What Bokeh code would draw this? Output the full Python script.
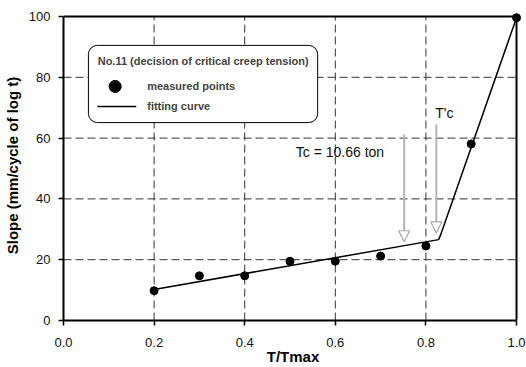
from bokeh.plotting import figure
from bokeh.models import (Range1d, FixedTicker, PrintfTickFormatter, Label, Arrow,
                          NormalHead, BoxAnnotation, ColumnDataSource)
from bokeh.embed import file_html
from bokeh.resources import INLINE

# ---- data ----
ratio = [0.2, 0.3, 0.4, 0.5, 0.6, 0.7, 0.8, 0.9, 1.0]
slope = [9.8, 14.7, 14.7, 19.5, 19.5, 21.2, 24.5, 58.1, 99.6]
fit_x = [0.2, 0.828, 0.832, 1.0]
fit_y = [10.2, 26.6, 28.0, 99.6]
x_ticks = [0.0, 0.2, 0.4, 0.6, 0.8, 1.0]
y_ticks = [0, 20, 40, 60, 80, 100]
arrow_x = [0.752, 0.823]
arrow_top = [61.2, 64.5]
arrow_tip = [25.9, 28.8]
tc_label = "Tc = 10.66 ton"
tpc_label = "T'c"
x_title = "T/Tmax"
y_title = "Slope (mm/cycle of log t)"
legend_title = "No.11 (decision of critical creep tension)"
legend_labels = ["measured points", "fitting curve"]

FONT = "Liberation Sans"
x0, x1 = x_ticks[0], x_ticks[-1]
y0, y1 = y_ticks[0], y_ticks[-1]
# small extra room past the frame so the corner marker is not clipped
xpad = (x1 - x0) * 6 / 454.5
ypad = (y1 - y0) * 6 / 304.0

p = figure(width=526, height=367, output_backend="svg", toolbar_location=None,
           x_range=Range1d(x0, x1 + xpad), y_range=Range1d(y0, y1 + ypad),
           min_border_left=62, min_border_right=4, min_border_top=10, min_border_bottom=47)
p.background_fill_color = "white"
p.border_fill_color = "white"
p.outline_line_color = None
p.xgrid.visible = False
p.ygrid.visible = False

for ax in (p.xaxis[0], p.yaxis[0]):
    ax.axis_line_width = 2
    ax.axis_line_color = "black"
    ax.major_tick_out = 5
    ax.major_tick_in = 0
    ax.minor_tick_out = 0
    ax.minor_tick_in = 0
    ax.major_tick_line_width = 1.5
    ax.major_tick_line_color = "black"
    ax.major_label_text_font = FONT
    ax.major_label_text_font_size = "13px"
    ax.major_label_text_color = "#111111"
    ax.axis_label_text_font = FONT
    ax.axis_label_text_font_size = "15px"
    ax.axis_label_text_font_style = "bold"
    ax.axis_label_text_color = "black"

p.xaxis.ticker = FixedTicker(ticks=x_ticks)
p.xaxis.formatter = PrintfTickFormatter(format="%.1f")
p.yaxis.ticker = FixedTicker(ticks=y_ticks)
p.xaxis.bounds = (x0, x1)
p.yaxis.bounds = (y0, y1)
p.xaxis.axis_label = x_title
p.yaxis.axis_label = y_title
p.xaxis.major_label_standoff = 12
p.yaxis.major_label_standoff = 8
p.xaxis.axis_label_standoff = -2
p.yaxis.axis_label_standoff = 5

# dashed grid drawn from the interior ticks
gx = x_ticks[1:-1]
gy = y_ticks[1:-1]
p.multi_line([[t, t] for t in gx] + [[x0, x1] for _ in gy],
             [[y0, y1] for _ in gx] + [[t, t] for t in gy],
             line_color="#333333", line_dash="8 4", line_width=1, level="underlay")
# top and right frame lines
p.line([x0, x1, x1], [y1, y1, y0], line_color="black", line_width=2, level="underlay")

src = ColumnDataSource(dict(x=ratio, y=slope))
p.line(fit_x, fit_y, line_color="black", line_width=1.5)
p.scatter("x", "y", source=src, size=8, marker="circle", fill_color="black", line_color="black")

# arrows
for ax_, top, tip in zip(arrow_x, arrow_top, arrow_tip):
    p.add_layout(Arrow(x_start=ax_, y_start=top, x_end=ax_, y_end=tip,
                       line_color="#b4b4b4", line_width=2,
                       end=NormalHead(size=11, fill_color="white", line_color="#a8a8a8", line_width=1.2)))

p.add_layout(Label(x=0.5127, y=55.3, text=tc_label, text_font=FONT, text_font_size="14px",
                   text_baseline="middle", text_color="#111111"))
p.add_layout(Label(x=0.8207, y=68.4, text=tpc_label, text_font=FONT, text_font_size="14px",
                   text_baseline="middle", text_color="#111111"))

# legend box (manual)
box = BoxAnnotation(left=0.055, right=0.561, bottom=65.1, top=90.5,
                    fill_color="white", fill_alpha=1,
                    line_color="black", line_alpha=1, line_width=1,
                    border_radius=9, level="annotation")
p.add_layout(box)
p.add_layout(Label(x=0.0755, y=85.5, text=legend_title, text_font=FONT, text_font_size="11px",
                   text_font_style="bold", text_baseline="middle", level="overlay"))
p.scatter([0.114], [77.0], size=12, marker="circle", fill_color="black", line_color="black", level="overlay")
p.line([0.0748, 0.1606], [70.4, 70.4], line_color="black", line_width=1.5, level="overlay")
for lab, yy in zip(legend_labels, [77.0, 70.4]):
    p.add_layout(Label(x=0.1848, y=yy, text=lab, text_font=FONT, text_font_size="11px",
                       text_font_style="bold", text_baseline="middle", level="overlay"))

open("out.html", "w").write(file_html(p, INLINE))
